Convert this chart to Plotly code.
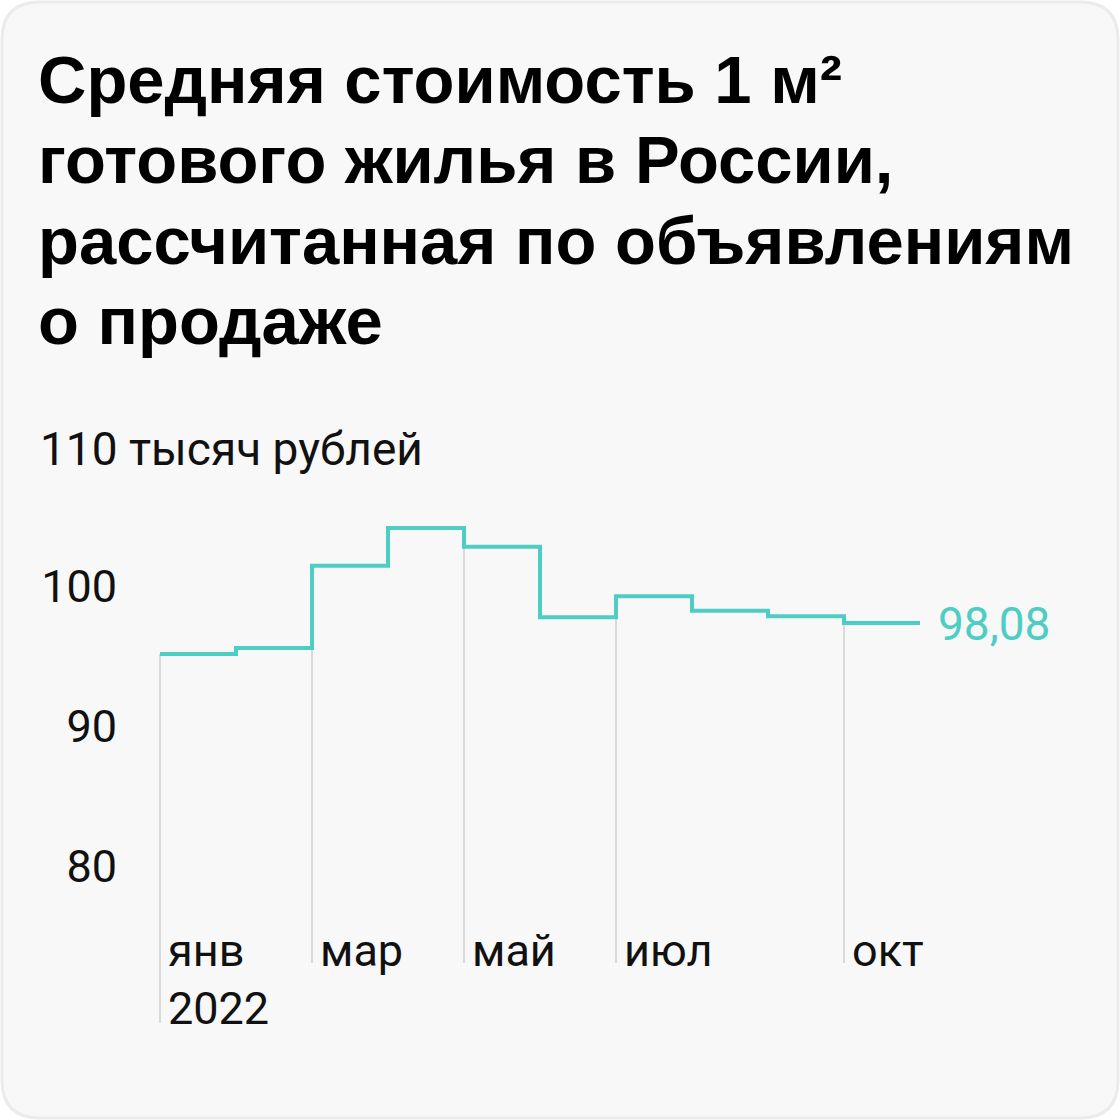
import plotly.graph_objects as go

# средняя цена 1 м², тыс. руб.
months = ["янв", "фев", "мар", "апр", "май", "июн", "июл", "авг", "сен", "окт"]
prices = [95.87, 96.29, 102.17, 104.87, 103.53, 98.49, 99.99, 98.96, 98.56, 98.08]
tick_months = ["янв", "мар", "май", "июл", "окт"]
year_label = "2022"
y_ticks = [80, 90, 100]
title_lines = ["Средняя стоимость 1 м²", "готового жилья в России,",
               "рассчитанная по объявлениям", "о продаже"]

TEAL = "#4ecdc4"
GREY = "#d9d9d9"
W = H = 1120

def px_y(p):
    return 1 - p / H

# масштаб: 76 px на месяц, 14 px на тысячу
x0 = 160
y_bot, y_top = 1030, 440
v_at = lambda pix: prices[-1] + (623 - pix) / 14

x_idx = list(range(len(months))) + [len(months)]
y_step = prices + [prices[-1]]

fig = go.Figure()

# вертикальные линии под ступеньками
gx, gy = [], []
for m in tick_months:
    i = months.index(m)
    top = prices[i] if i == 0 else min(prices[i], prices[i - 1])
    bottom = v_at(1023) if i == 0 else v_at(963)
    gx += [i, i, None]
    gy += [top, bottom, None]
fig.add_trace(go.Scatter(x=gx, y=gy, mode="lines", line=dict(color=GREY, width=2),
                         hoverinfo="skip", showlegend=False))

fig.add_trace(go.Scatter(x=x_idx, y=y_step, mode="lines", line_shape="hv",
                         line=dict(color=TEAL, width=4), showlegend=False))

for m in tick_months:
    fig.add_annotation(x=months.index(m), y=px_y(950), yref="paper", text=m,
                       xanchor="left", yanchor="middle", xshift=6, showarrow=False,
                       font=dict(family="Roboto", size=45, color="#111"))
fig.add_annotation(x=0, y=px_y(1008), yref="paper", text=year_label,
                   xanchor="left", yanchor="middle", xshift=6, showarrow=False,
                   font=dict(family="Roboto", size=45, color="#111"))

# подпись последнего значения
fig.add_annotation(x=len(months), y=prices[-1], text=f"{prices[-1]:.2f}".replace(".", ","),
                   xanchor="left", yanchor="middle", xshift=16, yshift=-1, showarrow=False,
                   font=dict(family="Roboto", size=46, color=TEAL))

fig.add_annotation(x=38 / W, y=px_y(449), xref="paper", yref="paper", text="110 тысяч рублей",
                   xanchor="left", yanchor="middle", showarrow=False,
                   font=dict(family="Roboto", size=46, color="#111"))

for k, line in enumerate(title_lines):
    fig.add_annotation(x=36 / W, y=px_y(80 + 80 * k), xref="paper", yref="paper", text=line,
                       xanchor="left", yanchor="middle", showarrow=False,
                       font=dict(family="Liberation Sans", size=67, color="#000", weight="bold"))

# карточка
r = 40
fig.add_shape(type="path", xref="paper", yref="paper", layer="below",
              path=f"M {r/W} {px_y(2)} L {1-r/W} {px_y(2)} Q {1-2/W} {px_y(2)} {1-2/W} {px_y(r)} "
                   f"L {1-2/W} {px_y(H-r)} Q {1-2/W} {px_y(H-2)} {1-r/W} {px_y(H-2)} "
                   f"L {r/W} {px_y(H-2)} Q {2/W} {px_y(H-2)} {2/W} {px_y(H-r)} "
                   f"L {2/W} {px_y(r)} Q {2/W} {px_y(2)} {r/W} {px_y(2)} Z",
              fillcolor="#f8f8f8", line=dict(color="#ebebeb", width=3))

fig.update_layout(
    width=W, height=H, margin=dict(l=0, r=0, t=0, b=0),
    paper_bgcolor="white", plot_bgcolor="rgba(0,0,0,0)",
    xaxis=dict(domain=[0, 1], range=[-x0 / 76, (W - x0) / 76], visible=False),
    yaxis=dict(domain=[px_y(y_bot), px_y(y_top)], range=[v_at(y_bot), v_at(y_top)],
               anchor="free", position=117 / W, tickvals=y_ticks, showgrid=False,
               zeroline=False, showline=False, ticks="", ticklabelshift=-10,
               tickfont=dict(family="Roboto", size=45, color="#111")),
)

fig.write_html("out.html", config={"displayModeBar": False},
               post_script="document.body.style.margin='0';")
